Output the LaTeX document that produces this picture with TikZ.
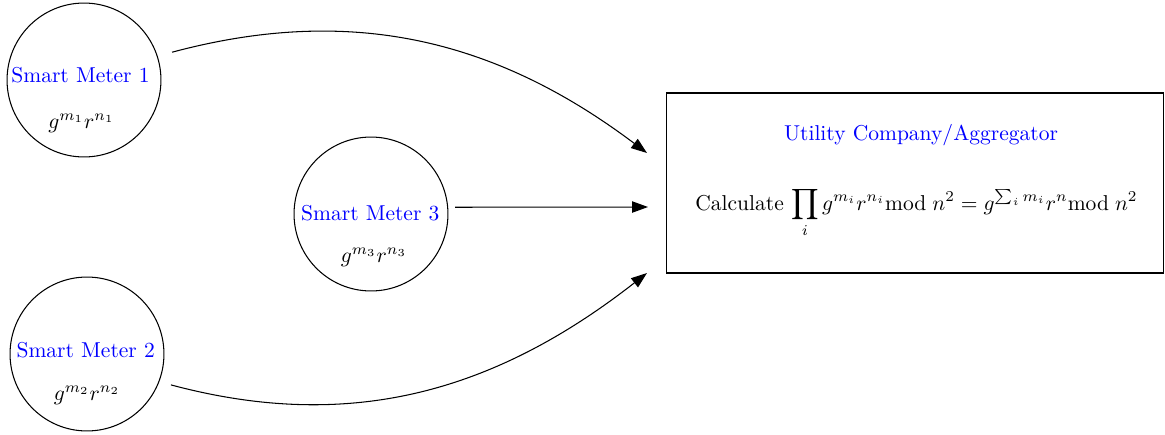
\documentclass[tikz,border=0pt]{standalone}
\usepackage{amsmath}
\usetikzlibrary{arrows.meta}
\begin{document}
\begin{tikzpicture}[x=0.4762pt,y=0.4762pt,
  meter/.style={circle,draw,line width=0.5pt,minimum size=73.3pt,inner sep=0pt},
  mtitle/.style={anchor=base,text=blue,inner sep=0pt,scale=1.025,transform shape},
  mform/.style={anchor=base,inner sep=0pt,scale=1.025,transform shape},
  util/.style={draw,line width=0.5pt,minimum width=237.1pt,minimum height=85.7pt,inner sep=0pt},
  arr/.style={line width=0.5pt,-{Triangle[length=7.6pt,width=5.4pt]}}]
\useasboundingbox (0,0) rectangle (1165,-434);
% meters
\node[meter] (sm1) at (84,-80) {};
\node[meter] (sm3) at (371,-214) {};
\node[meter] (sm2) at (87,-354) {};
\node[mtitle] (sm1t) at (80.5,-82) {Smart Meter 1};
\node[mform] (sm1f) at (81.5,-128) {$g^{m_1}r^{n_1}$};
\node[mtitle] (sm3t) at (370.3,-220.5) {Smart Meter 3};
\node[mform] (sm3f) at (374,-262) {$g^{m_3}r^{n_3}$};
\node[mtitle] (sm2t) at (85.7,-357.3) {Smart Meter 2};
\node[mform] (sm2f) at (87,-400) {$g^{m_2}r^{n_2}$};
% utility box
\node[util] (box) at (915,-183) {};
\node[mtitle] (boxt) at (921,-140) {Utility Company/Aggregator};
\node[mform] (boxf) at (916.5,-210) {Calculate $\displaystyle\prod_i g^{m_i}r^{n_i}\mathrm{mod}\;n^2=g^{\sum_i m_i}r^{n}\mathrm{mod}\;n^2$};
% arrow ends
\coordinate (e1) at (647,-153);
\coordinate (e3) at (648,-207);
\coordinate (e2) at (647,-273);
\draw[arr,shorten <=7.1pt] (sm1.18) to[out=15,in=143] (e1);
\draw[arr,shorten <=3.3pt] (sm3.5) -- (e3);
\draw[arr,shorten <=5.7pt] (sm2.-21) to[out=-15,in=-142] (e2);
\end{tikzpicture}
\end{document}
